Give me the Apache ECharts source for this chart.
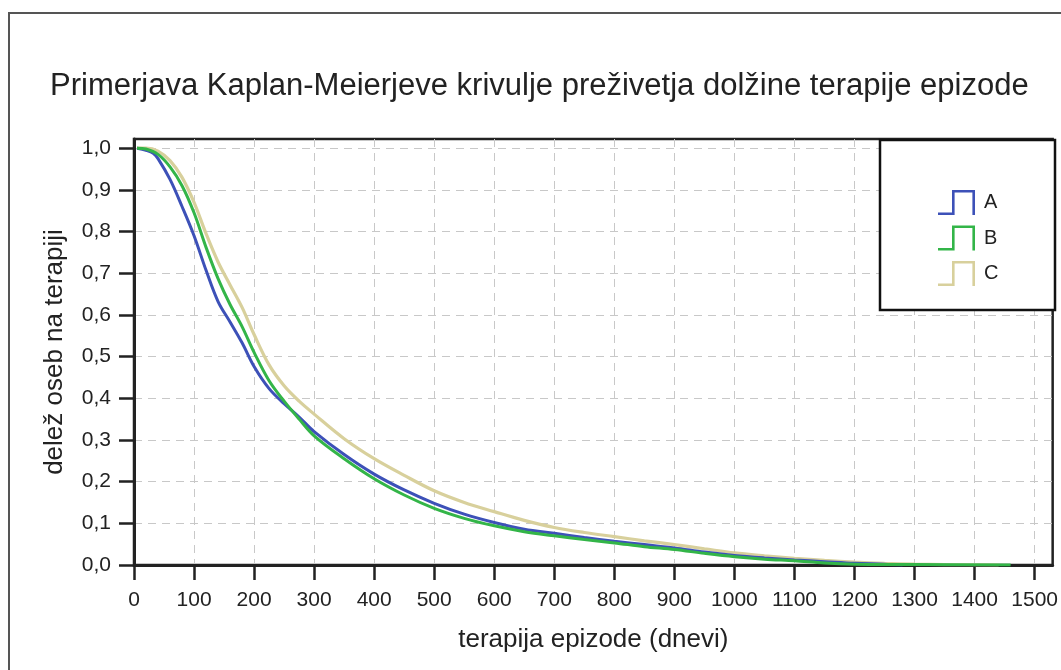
<!DOCTYPE html>
<html>
<head>
<meta charset="utf-8">
<script src="https://cdn.jsdelivr.net/npm/echarts@6/dist/echarts.min.js"></script>
<style>
html,body{margin:0;padding:0;background:#fff;}
#c{width:1061px;height:670px;}
</style>
</head>
<body>
<div id="c"></div>
<script>
// ---- data ----
var titleText = 'Primerjava Kaplan-Meierjeve krivulje preživetja dolžine terapije epizode';
var xName = 'terapija epizode (dnevi)';
var yName = 'delež oseb na terapiji';
var seriesNames = ['A', 'B', 'C'];
var xTicks = [0,100,200,300,400,500,600,700,800,900,1000,1100,1200,1300,1400,1500];
var yTicks = [0,0.1,0.2,0.3,0.4,0.5,0.6,0.7,0.8,0.9,1.0];

var daysA = [5,20,32,40,60,80,100,120,140,160,180,200,225,250,275,300,350,400,450,500,550,600,650,700,750,800,850,900,950,1000,1050,1100,1150,1200,1250,1280];
var survA = [1.0,0.995,0.988,0.975,0.925,0.86,0.79,0.707,0.632,0.583,0.533,0.476,0.423,0.387,0.355,0.32,0.265,0.218,0.18,0.148,0.122,0.102,0.086,0.076,0.066,0.057,0.049,0.041,0.031,0.023,0.017,0.012,0.008,0.004,0.002,0.0];

var daysB = [5,20,40,60,80,100,120,140,160,180,200,225,250,275,300,350,400,450,500,550,600,650,700,750,800,850,900,950,1000,1050,1100,1150,1200,1250,1300,1460];
var survB = [1.0,0.998,0.985,0.955,0.91,0.845,0.762,0.687,0.625,0.572,0.51,0.442,0.393,0.35,0.31,0.255,0.207,0.168,0.136,0.112,0.094,0.08,0.07,0.061,0.053,0.044,0.037,0.028,0.02,0.014,0.01,0.005,0.002,0.001,0.001,0.0];

var daysC = [5,20,40,60,80,100,120,140,160,180,200,225,250,275,300,350,400,450,500,550,600,650,700,750,800,850,900,950,1000,1050,1100,1150,1200,1250,1300,1350,1440];
var survC = [1.0,1.0,0.993,0.97,0.93,0.87,0.795,0.727,0.672,0.618,0.553,0.48,0.43,0.393,0.362,0.303,0.255,0.215,0.178,0.15,0.128,0.107,0.09,0.078,0.068,0.058,0.049,0.039,0.029,0.022,0.016,0.011,0.007,0.004,0.002,0.001,0.0];

var colors = {A:'#3d51b8', B:'#33b548', C:'#d8d09c'};

function pairs(xs, ys){ var out=[]; for(var i=0;i<xs.length;i++) out.push([xs[i], ys[i]]); return out; }

var FONT = '"Liberation Sans", Arial, sans-serif';
var TXT = '#222';
var stepIcon = 'path://M0,22.4L14,22.4L14,0L37,0L37,25L34.4,25L34.4,2.6L16.6,2.6L16.6,25L0,25Z';

var chart = echarts.init(document.getElementById('c'), null, {renderer:'canvas'});
chart.setOption({
  animation: false,
  backgroundColor: '#fff',
  textStyle: {fontFamily: FONT},
  title: {
    text: titleText, left: 45, top: 66,
    textStyle: {fontSize: 31, fontWeight: 'normal', color: TXT, fontFamily: FONT}
  },
  graphic: [
    {type:'rect', shape:{x:9, y:13, width:1100, height:700}, style:{fill:'none', stroke:'#555', lineWidth:2}, silent:true, z:0},
    {type:'rect', shape:{x:880, y:140, width:175, height:170}, style:{fill:'#fff', stroke:'#111', lineWidth:2.5}, silent:true, z:5}
  ],
  legend: {
    orient: 'vertical', left: 938, top: 190, padding: 0,
    itemWidth: 37, itemHeight: 25, itemGap: 10.5,
    icon: stepIcon,
    itemStyle: {borderWidth: 0},
    textStyle: {fontSize: 20, color: TXT, fontFamily: FONT, padding: [0,0,0,4]},
    data: seriesNames, z: 10
  },
  grid: {
    left: 134, top: 139, right: 6, bottom: 105,
    show: true, borderColor: '#222', borderWidth: 2.5, backgroundColor: '#fff'
  },
  xAxis: {
    type: 'value', min: 0, max: 1530, interval: 100,
    name: xName, nameLocation: 'middle', nameGap: 62,
    nameTextStyle: {fontSize: 26, color: TXT, fontFamily: FONT},
    axisLine: {show: true, onZero: false, lineStyle: {color: '#222', width: 3}},
    axisTick: {show: true, length: 15, lineStyle: {color: '#222', width: 2.5}, customValues: xTicks},
    axisLabel: {fontSize: 21, color: TXT, margin: 25, fontFamily: FONT, customValues: xTicks,
      formatter: function(v){ return String(v); }},
    splitLine: {show: true, lineStyle: {color: '#c8c8c8', width: 1, type: [8,6]}}
  },
  yAxis: {
    type: 'value', min: 0, max: 1.022, interval: 0.1,
    name: yName, nameLocation: 'middle', nameGap: 66, nameRotate: 90,
    nameTextStyle: {fontSize: 26, color: TXT, fontFamily: FONT},
    axisLine: {show: true, lineStyle: {color: '#222', width: 3}},
    axisTick: {show: true, length: 15, lineStyle: {color: '#222', width: 2.5}, customValues: yTicks},
    axisLabel: {fontSize: 21, color: TXT, margin: 23, fontFamily: FONT, customValues: yTicks,
      formatter: function(v){ return v.toFixed(1).replace('.', ','); }},
    splitLine: {show: true, lineStyle: {color: '#c8c8c8', width: 1, type: [8,6]}}
  },
  series: [
    {name:'C', type:'line', data: pairs(daysC, survC), showSymbol:false, symbol:'none', z:2,
     smooth: 0.35,
     color: colors.C, lineStyle:{width:3.2, color: colors.C}},
    {name:'A', type:'line', data: pairs(daysA, survA), showSymbol:false, symbol:'none', z:3,
     smooth: 0.35,
     color: colors.A, lineStyle:{width:3, color: colors.A}},
    {name:'B', type:'line', data: pairs(daysB, survB), showSymbol:false, symbol:'none', z:4,
     smooth: 0.35,
     color: colors.B, lineStyle:{width:3, color: colors.B}}
  ]
});
</script>
</body>
</html>
